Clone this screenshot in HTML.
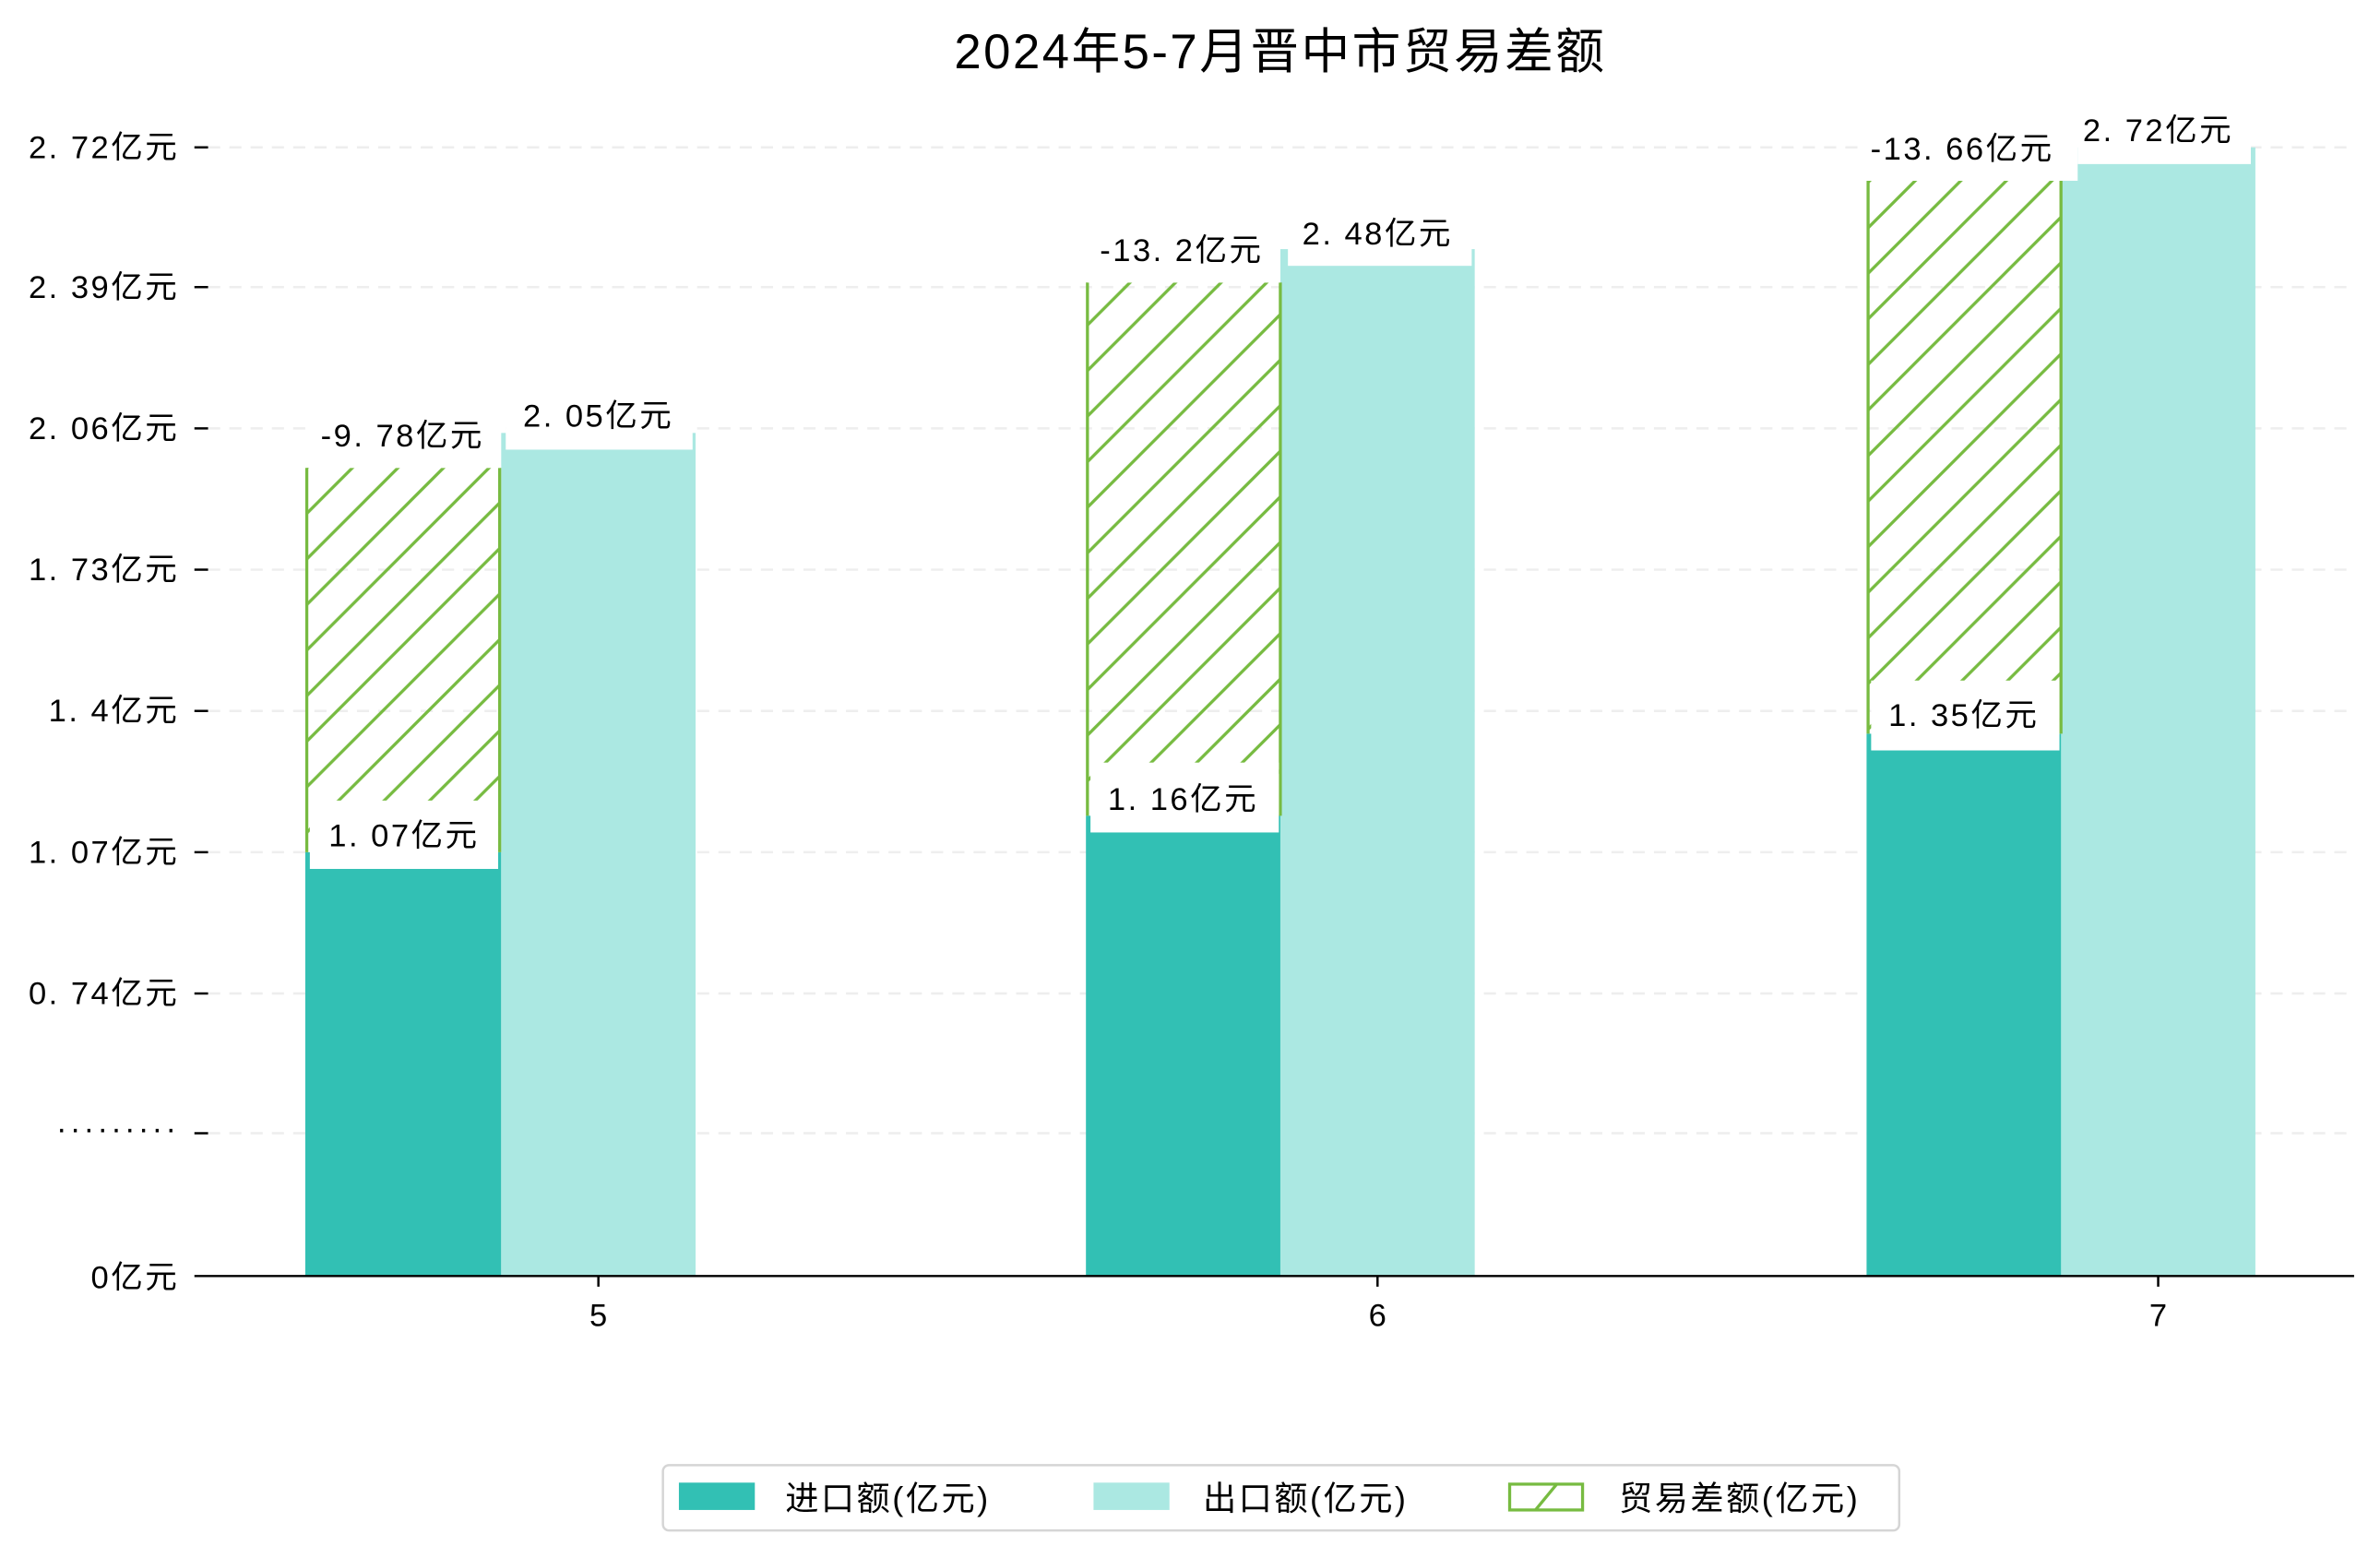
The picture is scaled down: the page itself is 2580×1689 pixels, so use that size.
<!DOCTYPE html>
<html><head><meta charset="utf-8"><style>html,body{margin:0;padding:0;background:#fff}svg{display:block}</style></head><body>
<svg width="2580" height="1689" viewBox="0 0 1560 1021" preserveAspectRatio="none" xmlns="http://www.w3.org/2000/svg" font-family="'Liberation Sans','Noto Sans CJK SC',sans-serif">
<defs>
<pattern id="h" patternUnits="userSpaceOnUse" width="30" height="30">
<path d="M-5,5 L5,-5 M0,30 L30,0 M25,35 L35,25" stroke="#77bb41" stroke-width="2"/>
</pattern>
</defs>
<rect width="1560" height="1021" fill="#fff"/>
<g transform="scale(0.9955)">
<text x="843" y="45" font-size="32" letter-spacing="1.5" text-anchor="middle" fill="#000">2024年5-7月晋中市贸易差额</text>
<g stroke="#eeeeee" stroke-width="1.5" stroke-dasharray="8,6">
<line x1="137" x2="1550" y1="97" y2="97"/><line x1="137" x2="1550" y1="189" y2="189"/><line x1="137" x2="1550" y1="282" y2="282"/><line x1="137" x2="1550" y1="375" y2="375"/><line x1="137" x2="1550" y1="468" y2="468"/><line x1="137" x2="1550" y1="561" y2="561"/><line x1="137" x2="1550" y1="654" y2="654"/><line x1="137" x2="1550" y1="746" y2="746"/>
</g>
<g stroke="#000" stroke-width="1.5">
<line x1="128" x2="137" y1="97" y2="97"/><line x1="128" x2="137" y1="189" y2="189"/><line x1="128" x2="137" y1="282" y2="282"/><line x1="128" x2="137" y1="375" y2="375"/><line x1="128" x2="137" y1="468" y2="468"/><line x1="128" x2="137" y1="561" y2="561"/><line x1="128" x2="137" y1="654" y2="654"/><line x1="128" x2="137" y1="746" y2="746"/>
</g>
<g font-size="21" letter-spacing="1.5" text-anchor="end" fill="#000">
<text x="118" y="104">2. 72亿元</text><text x="118" y="196">2. 39亿元</text><text x="118" y="289">2. 06亿元</text><text x="118" y="382">1. 73亿元</text><text x="118" y="475">1. 4亿元</text><text x="118" y="568">1. 07亿元</text><text x="118" y="661">0. 74亿元</text><text x="118" y="750" letter-spacing="2">·········</text><text x="118" y="848">0亿元</text>
</g>
<rect x="201" y="561" width="129" height="279" fill="#32c0b4"/>
<rect x="330" y="285" width="128" height="555" fill="#abe8e2"/>
<rect x="715" y="537" width="129" height="303" fill="#32c0b4"/>
<rect x="843" y="164" width="128" height="676" fill="#abe8e2"/>
<rect x="1229" y="483" width="129" height="357" fill="#32c0b4"/>
<rect x="1357" y="97" width="128" height="743" fill="#abe8e2"/>
<g stroke="#77bb41" stroke-width="2">
<rect x="202" y="308" width="127" height="253" fill="url(#h)" stroke="none"/>
<line x1="202" x2="202" y1="308" y2="561"/><line x1="329" x2="329" y1="308" y2="561"/>
<rect x="716" y="186" width="127" height="351" fill="url(#h)" stroke="none"/>
<line x1="716" x2="716" y1="186" y2="537"/><line x1="843" x2="843" y1="186" y2="537"/>
<rect x="1230" y="119" width="127" height="364" fill="url(#h)" stroke="none"/>
<line x1="1230" x2="1230" y1="119" y2="483"/><line x1="1357" x2="1357" y1="119" y2="483"/>
</g>
<g fill="#fff">
<rect x="204" y="527" width="124" height="45"/><rect x="203" y="270" width="126" height="38"/><rect x="333" y="258" width="123" height="38"/>
<rect x="718" y="502" width="124" height="46"/><rect x="716" y="148" width="127" height="38"/><rect x="848" y="138" width="121" height="37"/>
<rect x="1232" y="448" width="124" height="46"/><rect x="1228" y="81" width="140" height="38"/><rect x="1368" y="70" width="114" height="38"/>
</g>
<g font-size="21" letter-spacing="1.5" text-anchor="middle" fill="#000">
<text x="266" y="557">1. 07亿元</text><text x="265" y="294">-9. 78亿元</text><text x="394" y="281">2. 05亿元</text>
<text x="779" y="533">1. 16亿元</text><text x="778" y="172">-13. 2亿元</text><text x="907" y="161">2. 48亿元</text>
<text x="1293" y="478">1. 35亿元</text><text x="1292" y="105">-13. 66亿元</text><text x="1421" y="93">2. 72亿元</text>
</g>
<line x1="128" x2="1550" y1="840" y2="840" stroke="#000" stroke-width="1.5"/>
<g stroke="#000" stroke-width="1.5"><line x1="394" x2="394" y1="840" y2="847"/><line x1="907" x2="907" y1="840" y2="847"/><line x1="1421" x2="1421" y1="840" y2="847"/></g>
<g font-size="21" text-anchor="middle" fill="#000"><text x="394" y="873">5</text><text x="907" y="873">6</text><text x="1421" y="873">7</text></g>
<rect x="436.5" y="964.5" width="814" height="43" rx="4" fill="#fff" stroke="#d5d5d5" stroke-width="1.5"/>
<rect x="447" y="976" width="50" height="18" fill="#32c0b4"/>
<rect x="720" y="976" width="50" height="18" fill="#abe8e2"/>
<rect x="994" y="977" width="48" height="17" fill="#fff" stroke="#77bb41" stroke-width="2"/>
<line x1="1011" y1="994" x2="1025" y2="977" stroke="#77bb41" stroke-width="2"/>
<g font-size="22" letter-spacing="1.5" fill="#000"><text x="517" y="994">进口额(亿元)</text><text x="792" y="994">出口额(亿元)</text><text x="1066" y="994">贸易差额(亿元)</text></g>
</g>
</svg>
</body></html>
